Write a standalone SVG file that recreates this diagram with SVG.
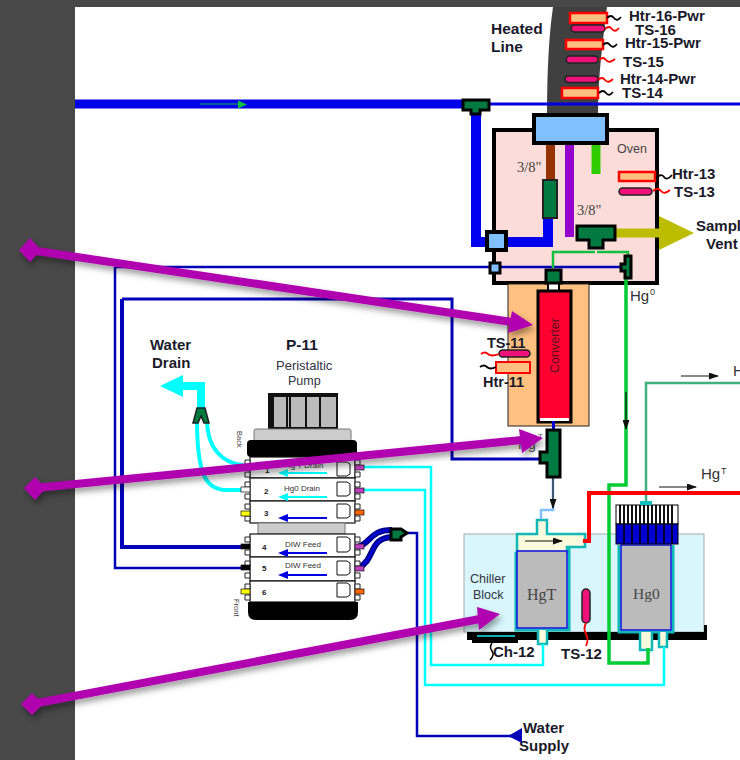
<svg xmlns="http://www.w3.org/2000/svg" width="740" height="760" viewBox="0 0 740 760">
<defs>
<style>
text{font-family:"Liberation Sans",Arial,sans-serif;fill:#1a1a2a}
.b{font-weight:bold}
.s{font-family:"Liberation Serif",serif;fill:#444}
.m{fill:#334}
.l{fill:none;stroke-linejoin:miter}
.htr{fill:#ffc080;stroke:#f00;stroke-width:2.5}
.ts{fill:#f0107a;stroke:#222;stroke-width:1.5}
.ws{fill:none;stroke:#000;stroke-width:1.8}
.wr{fill:none;stroke:#f00;stroke-width:1.8}
.g{fill:#007a40;stroke:#000;stroke-width:3}
.ch{fill:#fff;stroke:#222;stroke-width:1}
.mod{fill:#fff;stroke:#111;stroke-width:1.2}
.pa{fill:none;stroke:#b000b0;stroke-width:8}
.ph{fill:#b000b0}
.port{fill:#fafadc;stroke:#10b8b8;stroke-width:2.500}
</style>
<filter id="sh" x="-5%" y="-20%" width="110%" height="140%"><feDropShadow dx="2" dy="4" stdDeviation="3" flood-color="#000" flood-opacity=".4"/></filter>
<marker id="ah" markerWidth="10" markerHeight="7" refX="9" refY="3.500" orient="auto" markerUnits="userSpaceOnUse"><path d="M0 0L10 3.500L0 7Z" fill="#111"/></marker>
</defs>
<rect width="740" height="760" fill="#484848"/>
<rect x="75" y="7" width="665" height="753" fill="#fff"/>

<g id="heated-line">
<path d="M553 7H607C603 40 598 75 598 115H547C547 70 549 35 553 7Z" fill="#404040"/>
<rect class="htr" x="570" y="13" width="37" height="10"/><rect class="ts" x="571" y="25" width="34" height="7" rx="3.500"/>
<rect class="htr" x="566" y="40" width="37" height="9"/><rect class="ts" x="566" y="56" width="32" height="7" rx="3.500"/>
<rect class="ts" x="565" y="76" width="33" height="6.500" rx="3.200"/><rect class="htr" x="562" y="88" width="36" height="10"/>
<path class="ws" d="M607 18q4-4 7 0t7-1M603 45q4-4 7 0t7-1M599 93q4-4 7 0t7-1"/>
<path class="wr" d="M605 29q4-4 7 0t7-1M599 60q4-4 7 0t9-1M598 80q4-4 7 0t8-1"/>
<text class="b" x="629" y="21" font-size="15">Htr-16-Pwr</text>
<text class="b" x="635" y="35" font-size="15">TS-16</text>
<text class="b" x="625" y="48" font-size="15">Htr-15-Pwr</text>
<text class="b" x="623" y="67" font-size="15">TS-15</text>
<text class="b" x="620" y="84" font-size="15">Htr-14-Pwr</text>
<text class="b" x="622" y="98" font-size="15">TS-14</text>
<text class="b" x="491" y="34" font-size="15.500">Heated</text>
<text class="b" x="491" y="52" font-size="15.500">Line</text>
</g>

<g id="oven">
<rect x="494" y="130" width="163" height="153" fill="#fcdcd8" stroke="#000" stroke-width="4"/>
<text class="s" x="517" y="172" font-size="14.500">3/8"</text>
<text class="s" x="577" y="215" font-size="14.500">3/8"</text>
<text x="617" y="153" font-size="12.500" style="fill:#444">Oven</text>
<rect class="htr" x="619" y="172" width="36" height="9"/><rect class="ts" x="619" y="188" width="33" height="7" rx="3.500"/>
<path class="ws" d="M656 178q5-5 8-1t8-2"/><path class="wr" d="M653 191q5-4 8 0t9-1"/>
<text class="b" x="672" y="179" font-size="15">Htr-13</text>
<text class="b" x="674" y="197" font-size="15">TS-13</text>
<text class="b" x="696" y="231" font-size="15">Sample</text>
<text class="b" x="706" y="249" font-size="15">Vent</text>
</g>

<g id="converter">
<rect x="508" y="284" width="81" height="142" fill="#ffc080" stroke="#222" stroke-width="1"/>
<path d="M548 284V291M559 284V291" stroke="#000" stroke-width="2"/>
<rect x="549" y="284" width="9" height="7" fill="#fff"/>
<rect x="538" y="291" width="33" height="131" fill="#ff0030" stroke="#000" stroke-width="3"/>
<rect x="540" y="418" width="29" height="3" fill="#fff"/>
<text font-size="12.500" transform="translate(559,373) rotate(-90)" style="fill:#601020">Converter</text>
<text class="b" x="487" y="348" font-size="14.500">TS-11</text>
<rect class="ts" x="499" y="350" width="31" height="7" rx="3.500"/>
<rect x="496" y="362" width="34" height="11" fill="#ffc080" stroke="#f00" stroke-width="2"/>
<path class="wr" d="M481 354q4-3 7 0t11 0"/><path class="ws" d="M480 367q4-3 7 0t9 0"/>
<text class="b" x="483" y="387" font-size="14.500">Htr-11</text>
</g>

<g id="chiller">
<rect x="464" y="534" width="240" height="98" fill="#d8f6fc" stroke="#aaa" stroke-width="1"/>
<path d="M467 632H704V625H707V640H518V643H472V640H467Z" fill="#000"/>
<path d="M477 636H515" stroke="#10b0b0" stroke-width="2"/>
<path class="port" d="M517 534H537V520H547V534H585V547H567V552H517Z"/>
<path d="M525 541H562" stroke="#111" stroke-width="1.200" marker-end="url(#ah)"/>
<path d="M516 552V630H569V547" fill="none" stroke="#10b8b8" stroke-width="3"/>
<rect x="517" y="551" width="50" height="77" fill="#bbb" stroke="#1010e0" stroke-width="1.500"/>
<path class="port" d="M538 630V644H547V630"/>
<text class="s" x="527" y="600" font-size="16">HgT</text>
<path d="M619 545V632H673V545" fill="none" stroke="#10b8b8" stroke-width="3"/>
<rect x="621" y="545" width="50" height="85" fill="#bbb" stroke="#1010e0" stroke-width="1.500"/>
<text class="s" x="633" y="599" font-size="15.500">Hg0</text>
<rect x="616" y="505" width="62" height="19" fill="#fff" stroke="#000"/>
<path d="M620 505v19M624 505v19M628 505v19M632 505v19M636 505v19M640 505v19M644 505v19M648 505v19M652 505v19M656 505v19M660 505v19M664 505v19M668 505v19M672 505v19" stroke="#111" stroke-width="2"/>
<rect x="616" y="524" width="62" height="20" fill="#0000d0" stroke="#000"/>
<path d="M624 524v20M632 524v20M640 524v20M648 524v20M656 524v20M664 524v20M672 524v20" stroke="#000" stroke-width="1.500"/>
<rect x="640" y="501" width="12" height="4" fill="#10c0c0"/>
<path class="port" d="M640 632V650H652V632M659 632V647H667V632"/>
<rect x="582" y="589" width="8" height="34" rx="4" fill="#f0107a" stroke="#222" stroke-width="1.500"/>
<path class="wr" d="M586 623q-3 6 0 11t0 12" stroke-width="2"/>
<path d="M492 643q-3 4 0 8t-2 9" fill="none" stroke="#000" stroke-width="1.500"/>
<text class="m" x="470" y="583" font-size="12.500">Chiller</text>
<text class="m" x="473" y="599" font-size="12.500">Block</text>
<text class="b" x="493" y="657" font-size="15">Ch-12</text>
<text class="b" x="561" y="659" font-size="15">TS-12</text>
<text class="b" x="523" y="733" font-size="15">Water</text>
<text class="b" x="519" y="751" font-size="15">Supply</text>
</g>

<g id="connectors">
<path class="l" d="M75 104H470" stroke="#0000e8" stroke-width="9"/>
<path class="l" d="M200 104H240" stroke="#10c040" stroke-width="1"/>
<path d="M238 100.500L247 104.500L238 108.500Z" fill="#10c040"/>
<path class="l" d="M490 104H740" stroke="#0000e0" stroke-width="3"/>
<path class="l" d="M476 110V242H490M500 242H548V218" stroke="#0000f0" stroke-width="10"/>
<path class="l" d="M115 267H620" stroke="#0000b8" stroke-width="2.500"/>
<path class="l" d="M115 267V568H247" stroke="#0000b8" stroke-width="2.500"/>
<path class="l" d="M122 299H452V459H540" stroke="#0000b8" stroke-width="3"/>
<path class="l" d="M122 299V547H247" stroke="#0000b8" stroke-width="4"/>
<path class="l" d="M550.500 143V180" stroke="#963200" stroke-width="9"/>
<path class="l" d="M569.500 143V237" stroke="#9400cc" stroke-width="9"/>
<path class="l" d="M596 143V174" stroke="#30cc00" stroke-width="9"/>
<path class="l" d="M615 233H672" stroke="#bcbc00" stroke-width="9"/>
<path d="M659 216L694 233L659 250Z" fill="#bcbc00"/>
<path class="l" d="M595 252H553V268M597 252H628V256" stroke="#10c040" stroke-width="2.500"/>
<path class="l" d="M626 279V485H609V663H648V648" stroke="#00cc33" stroke-width="3.500"/>
<path class="l" d="M626 392V429" stroke="#111" stroke-width="1.200" marker-end="url(#ah)"/>
<path class="l" d="M646 501V383H740" stroke="#40b080" stroke-width="2.500"/>
<path class="l" d="M681 376H718" stroke="#111" stroke-width="1.200" marker-end="url(#ah)"/>
<path class="l" d="M659 487H696" stroke="#111" stroke-width="1.200" marker-end="url(#ah)"/>
<path class="l" d="M583 541H589V493H740" stroke="#f00" stroke-width="4"/>
<path class="l" d="M553 478V510H541V519" stroke="#80c0ff" stroke-width="2.500"/>
<path class="l" d="M553 478V508" stroke="#111" stroke-width="1.200" marker-end="url(#ah)"/>
<path class="l" d="M364 467H431V665H543V644" stroke="#00ffff" stroke-width="2.500"/>
<path class="l" d="M364 490H425V685H664V647" stroke="#00ffff" stroke-width="2.500"/>
<path class="l" d="M402 533H417V736H520" stroke="#0000b8" stroke-width="2.500"/>
<path d="M508 736L522 728V743Z" fill="#0000b8"/>
<path class="l" d="M358 547C372 542 370 530 392 530M358 568C376 560 368 538 392 537" stroke="#000090" stroke-width="6"/>
<path class="l" d="M358 547C372 542 370 530 392 530M358 568C376 560 368 538 392 537" stroke="#0000e0" stroke-width="2"/>
<path class="l" d="M243 465C222 463 207 448 207 420M243 490H228C207 490 197 478 197 420" stroke="#00ffff" stroke-width="4"/>
<path class="l" d="M201 410V386H172" stroke="#00ffff" stroke-width="8"/>
<path d="M160 386L183 375V397Z" fill="#00ffff"/>
</g>

<g id="fittings">
<rect x="534" y="115" width="73" height="28" fill="#80c0ff" stroke="#000" stroke-width="4"/>
<rect x="543" y="180" width="14" height="38" fill="#007a40" stroke="#222" stroke-width="2"/>
<path class="g" d="M463 100H489V110H480V114H471V110H463Z"/>
<path class="g" d="M577 226H615V240H603V248H589V240H577Z"/>
<rect x="487" y="232" width="19" height="18" fill="#80c0ff" stroke="#000" stroke-width="4"/>
<rect x="490" y="263" width="10" height="10" fill="#80c0ff" stroke="#000" stroke-width="3"/>
<rect x="546" y="270" width="15" height="13" fill="#007a40" stroke="#000" stroke-width="3"/>
<path class="g" d="M625 256H631V278H625V271H621V264H625Z"/>
<rect x="552" y="421" width="3" height="8" fill="#0000d0"/>
<path class="g" d="M547 430H560V477H547V463H540V452H547Z"/>
<path d="M193 423L197 408H205L209 423H204L201 416L198 423Z" fill="#007a40" stroke="#222" stroke-width="1.500"/>
</g>

<g id="labels">
<text x="630" y="301" font-size="15" style="fill:#333">Hg</text><text x="650" y="295" font-size="9" style="fill:#333">0</text>
<text x="701" y="479" font-size="15" style="fill:#333">Hg</text><text x="721" y="474" font-size="9" style="fill:#333">T</text>
<text x="733" y="376" font-size="15" style="fill:#333">H</text>
<text x="518" y="449" font-size="14" style="fill:#555">Hg</text><text x="538" y="439" font-size="8" style="fill:#555">T</text>
</g>

<g id="water-drain"><text class="b" x="150" y="350" font-size="15">Water</text><text class="b" x="152" y="368" font-size="15">Drain</text></g>

<g id="pump">
<text class="b" x="286" y="350" font-size="15.500">P-11</text>
<text class="m" x="276" y="370" font-size="13">Peristaltic</text>
<text class="m" x="288" y="385" font-size="12.500">Pump</text>
<rect x="268" y="393" width="70" height="36" fill="#111"/>
<rect x="274" y="397" width="62" height="30" fill="#bbb"/>
<path d="M287 397V427M290 397V427M306 397V427M320 397V427" stroke="#111" stroke-width="2"/>
<rect x="254" y="429" width="97" height="12" fill="#ccc" stroke="#777" rx="2"/>
<rect x="247" y="440" width="110" height="17" fill="#000" rx="4"/>
<text font-size="7.500" transform="translate(237,431) rotate(90)" style="fill:#444">Back</text>
<g id="modules">
<rect class="mod" x="250" y="457" width="105" height="21"/><rect class="mod" x="250" y="478" width="105" height="23"/><rect class="mod" x="250" y="501" width="105" height="22"/>
<rect x="258" y="523" width="87" height="11" fill="#ccc" stroke="#777"/>
<rect class="mod" x="250" y="534" width="105" height="23"/><rect class="mod" x="250" y="557" width="105" height="24"/><rect class="mod" x="250" y="581" width="105" height="21"/>
</g>
<path d="M337 462h10l3 2v10l-3 2h-10zM337 482h10l3 2v10l-3 2h-10zM337 504h10l3 2v10l-3 2h-10zM337 537h10l3 2v11l-3 2h-10zM337 561h10l3 2v10l-3 2h-10zM337 583h10l3 2v10l-3 2h-10z" fill="#fff" stroke="#111"/>
<path class="ch" d="M245 460h5v5h-5zM245 472h5v5h-5zM245 482h5v5h-5zM245 494h5v5h-5zM245 504h5v5h-5zM245 516h5v5h-5zM245 537h5v5h-5zM245 550h5v5h-5zM245 561h5v5h-5zM245 573h5v5h-5zM245 584h5v5h-5zM245 595h5v5h-5zM355 460h5v5h-5zM355 472h5v5h-5zM355 482h5v5h-5zM355 494h5v5h-5zM355 504h5v5h-5zM355 516h5v5h-5zM355 537h5v5h-5zM355 550h5v5h-5zM355 561h5v5h-5zM355 573h5v5h-5zM355 584h5v5h-5zM355 595h5v5h-5z"/>
<g stroke="#111" stroke-width=".7">
<rect x="241" y="487" width="9" height="5" fill="#fff"/><rect x="241" y="511" width="9" height="5" fill="#ff0"/><rect x="241" y="544" width="9" height="5" fill="#000"/><rect x="241" y="565" width="9" height="5" fill="#000"/><rect x="241" y="589" width="9" height="5" fill="#ff0"/>
<rect x="355" y="465" width="9" height="5" fill="#c040c0"/><rect x="355" y="488" width="9" height="5" fill="#c040c0"/><rect x="355" y="510" width="9" height="5" fill="#f60"/><rect x="355" y="544" width="9" height="5" fill="#c040c0"/><rect x="355" y="566" width="9" height="5" fill="#c040c0"/><rect x="355" y="589" width="9" height="5" fill="#f60"/>
</g>
<text class="b" x="265" y="473" font-size="8">1</text><text class="b" x="264" y="494" font-size="8">2</text><text class="b" x="264" y="516" font-size="8">3</text><text class="b" x="262" y="550" font-size="8">4</text><text class="b" x="262" y="571" font-size="8">5</text><text class="b" x="262" y="595" font-size="8">6</text>
<g font-size="8"><text x="285" y="468" style="fill:#333">Hg T Drain</text><text x="284" y="491" style="fill:#333">Hg0 Drain</text><text x="285" y="547" style="fill:#333">DIW Feed</text><text x="285" y="568" style="fill:#333">DIW Feed</text></g>
<g fill="none" stroke-width="2"><path d="M280 473H327M280 497H327" stroke="#00ffff"/><path d="M280 518H327M280 553H327M280 575H327" stroke="#0000e0"/></g>
<path d="M278 473l10-4v8zM278 497l10-4v8z" fill="#00ffff"/><path d="M278 518l10-4v8zM278 553l10-4v8zM278 575l10-4v8z" fill="#0000e0"/>
<path d="M248 602H358V612Q358 620 350 620H256Q248 620 248 612Z" fill="#000"/>
<text font-size="7.500" transform="translate(234,599) rotate(90)" style="fill:#444">Front</text>
<path class="g" d="M391 529H401L407 533L401 537V540H391Z" stroke-width="1.500"/>
</g>

<g id="callouts" filter="url(#sh)">
<path class="pa" d="M30 250L512 322"/><path class="ph" d="M512 311L533 325L508 333ZM19 250L30 238L41 250L30 262Z"/>
<path class="pa" d="M35 488L522 440"/><path class="ph" d="M519 429L543 438L522 453ZM24 488L35 477L46 488L35 500Z"/>
<path class="pa" d="M32 704L480 619"/><path class="ph" d="M477 607L500 614L479 630ZM21 704L32 693L43 704L32 715Z"/>
</g>
</svg>
